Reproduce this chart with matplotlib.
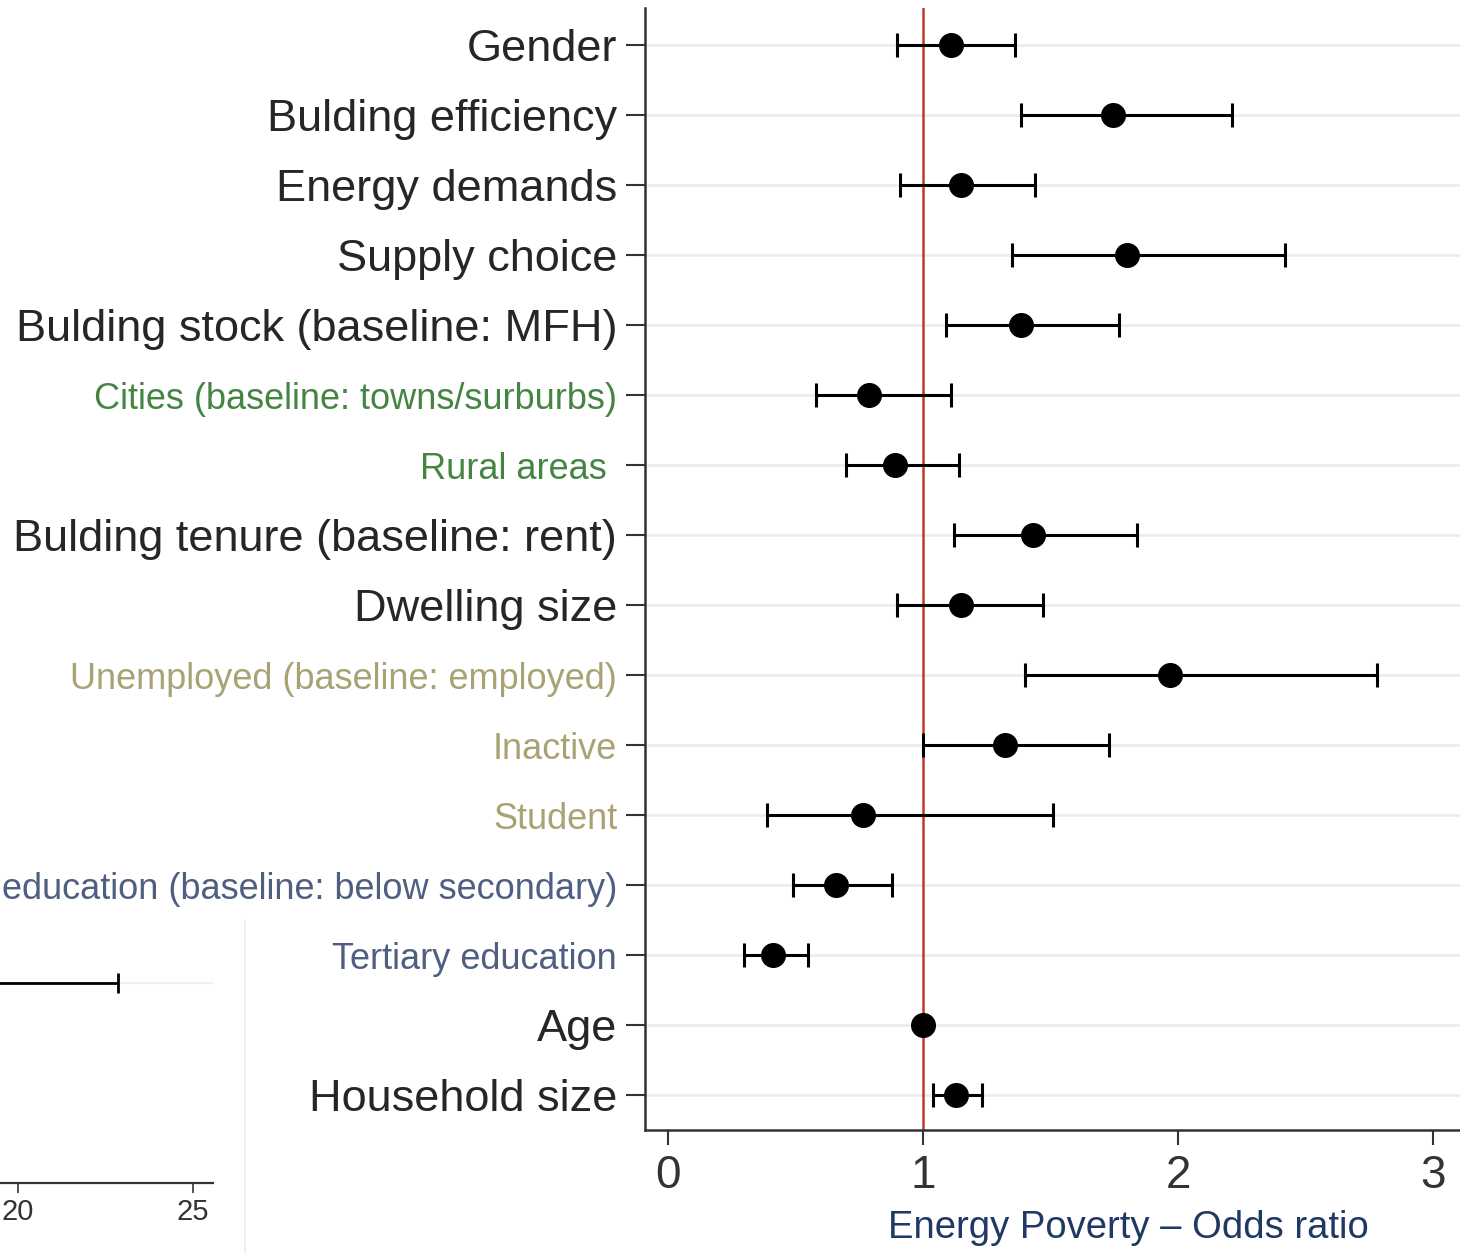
import matplotlib
matplotlib.use("Agg")
import matplotlib.pyplot as plt
from matplotlib.lines import Line2D
import numpy as np

plt.rcParams["font.family"] = ["Liberation Sans", "DejaVu Sans"]

labels = [
    "Gender",
    "Bulding efficiency",
    "Energy demands",
    "Supply choice",
    "Bulding stock (baseline: MFH)",
    "Cities (baseline: towns/surburbs)",
    "Rural areas ",
    "Bulding tenure (baseline: rent)",
    "Dwelling size",
    "Unemployed (baseline: employed)",
    "Inactive",
    "Student",
    "education (baseline: below secondary)",
    "Tertiary education",
    "Age",
    "Household size",
]
odds = [1.11, 1.745, 1.15, 1.80, 1.385, 0.79, 0.89, 1.43, 1.15, 1.97, 1.32, 0.765, 0.66, 0.41, 1.00, 1.13]
ci_low = [0.90, 1.385, 0.91, 1.35, 1.09, 0.58, 0.70, 1.12, 0.90, 1.40, 1.00, 0.39, 0.49, 0.30, 1.00, 1.04]
ci_high = [1.36, 2.21, 1.44, 2.42, 1.77, 1.11, 1.14, 1.84, 1.47, 2.78, 1.73, 1.51, 0.88, 0.55, 1.00, 1.23]
groups = ["main", "main", "main", "main", "main", "area", "area", "main", "main",
          "work", "work", "work", "edu", "edu", "main", "main"]

# fragment of the neighbouring chart visible in the lower-left corner
partial_ticks = [20, 25]
partial_ci_high = 22.86

group_style = {
    "main": ("#262626", 32.5),
    "area": ("#448544", 26),
    "work": ("#a9a274", 26),
    "edu": ("#4f5f82", 26),
}

fig = plt.figure(figsize=(14.6, 12.54), dpi=100)
W, H = 1460, 1254

# main forest plot
ax = fig.add_axes([645 / W, 1 - 1130 / H, 1 - 645 / W, (1130 - 8) / H])
y = np.arange(len(labels))
odds = np.array(odds)
err = np.vstack([odds - np.array(ci_low), np.array(ci_high) - odds])

for yi in y:
    ax.axhline(yi, color="#ebebeb", lw=1.8, zorder=0)
ax.axvline(1, color="#c0392b", lw=1.8, zorder=1)
ax.errorbar(odds, y, xerr=err, fmt="o", color="black", ms=17, elinewidth=2.2,
            capsize=8.5, capthick=2.2, zorder=3)

ax.set_xlim(-0.09, 3.106)
ax.set_ylim(15.5, -0.53)
ax.set_xticks([0, 1, 2, 3])
ax.set_yticks(y)
ax.set_yticklabels(labels)
for tl, g in zip(ax.get_yticklabels(), groups):
    color, size = group_style[g]
    tl.set_color(color)
    tl.set_fontsize(size)
ax.tick_params(axis="y", length=14, width=1.5, pad=6, color="#333333")
ax.tick_params(axis="x", length=11, width=1.5, pad=6, labelsize=33,
               color="#333333", labelcolor="#333333")
for side in ["top", "right"]:
    ax.spines[side].set_visible(False)
for side in ["left", "bottom"]:
    ax.spines[side].set_linewidth(1.8)
    ax.spines[side].set_color("#333333")

fig.text(1128 / W, 1 - 1228 / H, "Energy Poverty \u2013 Odds ratio",
         color="#1f3864", fontsize=27.5, ha="center", va="center")

# partial neighbouring chart
ax2 = fig.add_axes([0, 1 - 1183 / H, 213 / W, (1183 - 920) / H])
ax2.set_xlim(20 - 18 / 35, 20 + 195 / 35)
ax2.set_ylim(0, 1)
ax2.axhline(0.76, color="#efefef", lw=1.5, zorder=0)
ax2.hlines(0.76, 19.0, partial_ci_high, color="black", lw=2.0, zorder=2)
ax2.plot([partial_ci_high], [0.76], marker="|", ms=15, mew=2.0, color="black")
ax2.set_xticks(partial_ticks)
ax2.set_yticks([])
ax2.tick_params(axis="x", length=7, width=1.2, pad=4, labelsize=21,
                color="#333333", labelcolor="#333333")
for side in ["top", "right", "left"]:
    ax2.spines[side].set_visible(False)
ax2.spines["bottom"].set_linewidth(1.6)
ax2.spines["bottom"].set_color("#333333")

fig.add_artist(Line2D([245 / W, 245 / W], [0, 1 - 920 / H], color="#eeeeee", lw=1.2))

fig.savefig("out.png", dpi=100)
